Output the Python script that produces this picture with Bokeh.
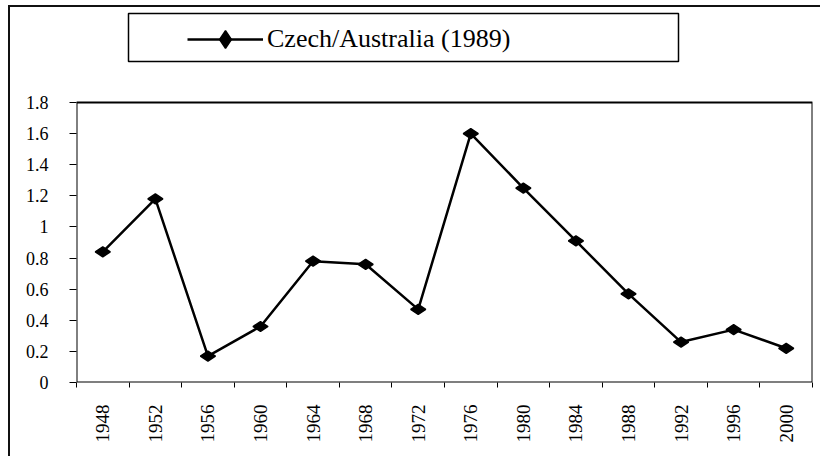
import math
from bokeh.plotting import figure
from bokeh.models import (FixedTicker, Legend, LegendItem, BoxAnnotation, Range1d,
                          ColumnDataSource, CustomJSTickFormatter)
from bokeh.embed import file_html
from bokeh.resources import INLINE

# ---- data ----
years = ["1948", "1952", "1956", "1960", "1964", "1968", "1972",
         "1976", "1980", "1984", "1988", "1992", "1996", "2000"]
values = [0.84, 1.18, 0.17, 0.36, 0.78, 0.76, 0.47,
          1.60, 1.25, 0.91, 0.57, 0.26, 0.34, 0.22]
y_ticks = [0, 0.2, 0.4, 0.6, 0.8, 1.0, 1.2, 1.4, 1.6, 1.8]
series_name = "Czech/Australia (1989)"

n = len(years)
centers = [i + 0.5 for i in range(n)]
bounds = [i for i in range(n + 1)]
y_top = y_ticks[-1]

src = ColumnDataSource(dict(x=centers, y=values, year=years))

FONT = "Liberation Serif"

# frame spans the whole height above the x axis; the visible plot box is drawn
# as an annotation from 0 to y_top, so the legend can sit above it.
FRAME_H = 382
PLOT_H = 280
p = figure(width=820, height=456, output_backend="svg", toolbar_location=None,
           x_range=Range1d(0, n), y_range=Range1d(0, y_top * FRAME_H / PLOT_H),
           min_border_left=76, min_border_right=8, min_border_top=0,
           min_border_bottom=74)
p.outline_line_color = None
p.grid.visible = False
p.background_fill_alpha = 0
p.border_fill_alpha = 0
# outer page border (left and top edges), painted under the transparent canvas
p.styles = {"box-shadow": "inset 8px 5px 0 0 #ffffff, inset 10px 7px 0 0 #111111",
            "background-color": "#ffffff"}
# the scanned original uses widely spaced letters
p.stylesheets = [
    'text[font-size="26px"], text[style*="26px"] { letter-spacing: 5px; }',
    'text[font-size="19px"], text[style*="19px"] { letter-spacing: 2px; }',
    'text[font-size="18px"], text[style*="18px"] { letter-spacing: 2.5px; }',
]

# plot-area box
p.add_layout(BoxAnnotation(left=0, right=n, bottom=0, top=y_top,
                           fill_color="white", fill_alpha=1,
                           line_color="black", line_alpha=1, line_width=2,
                           level="underlay"))

# x axis
xa = p.xaxis[0]
xa.ticker = FixedTicker(ticks=centers, minor_ticks=bounds)
xa.major_label_overrides = {c: y for c, y in zip(centers, years)}
xa.major_tick_out = 0
xa.major_tick_in = 0
xa.minor_tick_out = 5
xa.minor_tick_in = 0
xa.minor_tick_line_color = "black"
xa.minor_tick_line_width = 1
xa.axis_line_color = None
xa.major_label_orientation = math.pi / 2
xa.major_label_standoff = 17
xa.major_label_text_font = FONT
xa.major_label_text_font_size = "19px"
xa.major_label_text_color = "black"

# y axis
ya = p.yaxis[0]
ya.ticker = FixedTicker(ticks=y_ticks)
ya.formatter = CustomJSTickFormatter(code="return tick.toFixed(1).replace(/\\.0$/, '');")
ya.major_tick_out = 7
ya.major_tick_in = 0
ya.minor_tick_line_color = None
ya.major_tick_line_color = "black"
ya.axis_line_color = None
ya.major_label_standoff = 21
ya.major_label_text_font = FONT
ya.major_label_text_font_size = "18px"
ya.major_label_text_color = "black"

line_r = p.line("x", "y", source=src, line_color="black", line_width=2.5)
sc_r = p.scatter("x", "y", source=src, marker="diamond", size=15, angle=math.pi / 2,
                 fill_color="black", line_color="black", line_width=1.5)

legend = Legend(items=[LegendItem(label=series_name, renderers=[line_r, sc_r])],
                location=(111, 321), padding=0, margin=0,
                border_line_alpha=0, background_fill_alpha=0,
                glyph_width=76, glyph_height=44, label_height=44,
                label_standoff=4, label_text_font=FONT,
                label_text_font_size="26px", label_text_color="black")
p.add_layout(legend)

# legend frame box
p.add_layout(BoxAnnotation(left=128, right=678, top=13, bottom=61,
                           left_units="canvas", right_units="canvas",
                           top_units="canvas", bottom_units="canvas",
                           fill_alpha=0, line_color="black", line_alpha=1,
                           line_width=1.5))

open("out.html", "w").write(file_html(p, INLINE))
